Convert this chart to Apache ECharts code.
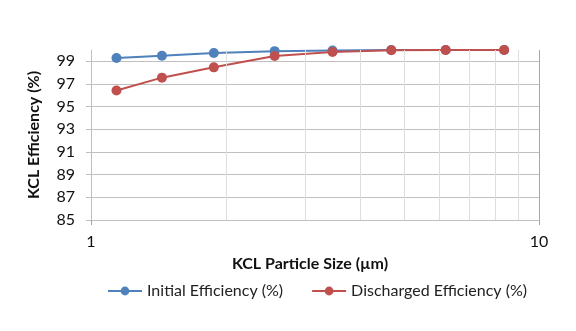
<!DOCTYPE html>
<html>
<head>
<meta charset="utf-8">
<script src="https://cdn.jsdelivr.net/npm/echarts@6/dist/echarts.min.js"></script>
<style>
html, body { margin: 0; padding: 0; background: #fff; }
#chart { width: 576px; height: 331px; }
</style>
</head>
<body>
<div id="chart"></div>
<script>
// particle size (µm) and efficiencies
var sizes = [1.14, 1.44, 1.88, 2.57, 3.46, 4.68, 6.19, 8.36];
var initialEff = [99.29, 99.5, 99.73, 99.9, 99.95, 100, 100, 100];
var dischargedEff = [96.42, 97.56, 98.47, 99.47, 99.82, 99.98, 100, 100];
var minorX = [2, 3, 4, 5, 6, 7, 8, 9];  // minor log gridlines

var seriesNames = ['Initial Efficiency (%)', 'Discharged Efficiency (%)'];
var blue = '#4f81bd';
var red = '#c0504d';
var font = 'Lato';

function pairs(ys){
    return sizes.map(function(x, i){ return [x, ys[i]]; });
}

var chart = echarts.init(document.getElementById('chart'), null, { renderer: 'canvas' });

chart.setOption({
    animation: false,
    grid: { left: 91, right: 37, top: 50, bottom: 111 },
    legend: {
        data: seriesNames,
        bottom: 27,
        left: 102,
        itemWidth: 34,
        itemHeight: 11,
        itemGap: 28,
        textStyle: { fontFamily: font, fontSize: 16, color: '#222' }
    },
    xAxis: {
        type: 'log',
        logBase: 10,
        min: 1,
        max: 10,
        name: 'KCL Particle Size (µm)',
        nameLocation: 'middle',
        nameGap: 36,
        nameTextStyle: { fontFamily: font, fontSize: 16, fontWeight: 'bold', color: '#111', padding: [0, 10, 0, 0] },
        axisLine: { show: true, lineStyle: { color: '#bfbfbf' } },
        axisTick: { show: true, length: 5, lineStyle: { color: '#a6a6a6' } },
        axisLabel: { fontFamily: font, fontSize: 16, color: '#111', margin: 14 },
        splitLine: { show: true, lineStyle: { color: '#a6a6a6', width: 1 } },
        minorTick: { show: false },
        minorSplitLine: { show: false }
    },
    yAxis: {
        type: 'value',
        min: 85,
        max: 100,
        interval: 2,
        name: 'KCL Efficiency (%)',
        nameLocation: 'middle',
        nameRotate: 90,
        nameGap: 49,
        nameTextStyle: { fontFamily: font, fontSize: 16, fontWeight: 'bold', color: '#111' },
        axisLine: { show: true, lineStyle: { color: '#bfbfbf' } },
        axisTick: { show: true, length: 5, lineStyle: { color: '#bfbfbf' } },
        axisLabel: { fontFamily: font, fontSize: 16, color: '#111', margin: 16, showMaxLabel: false },
        splitLine: { show: true, showMaxLine: false, lineStyle: { color: '#bfbfbf', width: 1 } }
    },
    series: [
        {
            name: 'minor',
            type: 'line',
            data: [],
            z: 1,
            silent: true,
            markLine: {
                silent: true,
                symbol: 'none',
                label: { show: false },
                lineStyle: { color: '#dedede', width: 1, type: 'solid' },
                data: minorX.map(function(v){ return { xAxis: v }; })
            }
        },
        {
            name: seriesNames[0],
            type: 'line',
            data: pairs(initialEff),
            z: 3,
            symbol: 'circle',
            symbolSize: 10,
            color: blue,
            lineStyle: { color: blue, width: 2 },
            itemStyle: { color: blue }
        },
        {
            name: seriesNames[1],
            type: 'line',
            data: pairs(dischargedEff),
            z: 4,
            symbol: 'circle',
            symbolSize: 10,
            color: red,
            lineStyle: { color: red, width: 2 },
            itemStyle: { color: red }
        }
    ]
});
</script>
</body>
</html>
